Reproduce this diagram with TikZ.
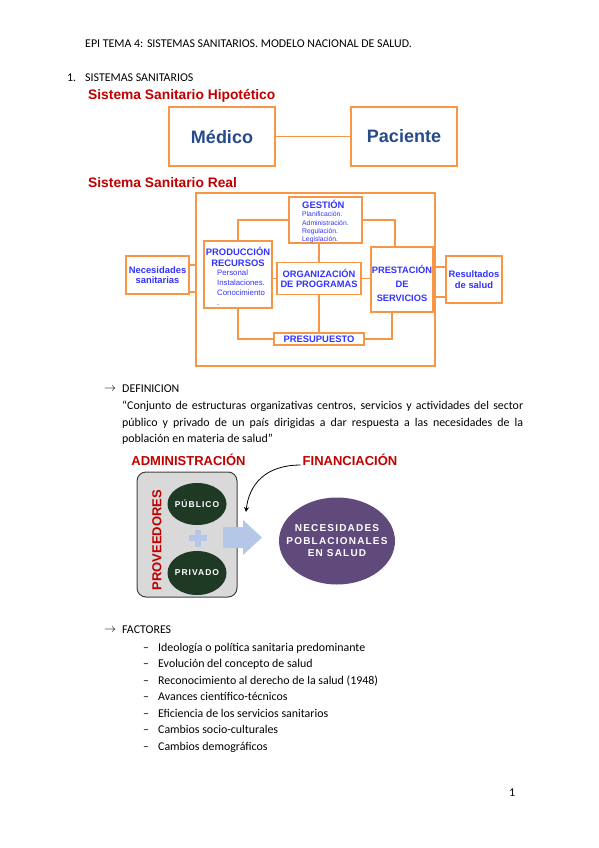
\documentclass[tikz,border=0pt]{standalone}
\usepackage{fontspec}
\setmainfont{Carlito}
\newfontfamily\diagfont{Liberation Sans}
\newfontfamily\spacedfont{Liberation Sans}[LetterSpace=12]
\usetikzlibrary{arrows.meta,shapes.geometric}

\definecolor{boxorange}{RGB}{247,150,70}
\definecolor{titlered}{RGB}{192,0,0}
\definecolor{medblue}{RGB}{38,74,140}
\definecolor{diagblue}{RGB}{51,51,255}
\definecolor{provgreen}{RGB}{30,58,36}
\definecolor{necpurple}{RGB}{96,74,123}
\definecolor{plusblue}{RGB}{180,199,231}
\definecolor{boxgray}{RGB}{217,217,217}

\newcommand{\dashitem}[1]{\makebox[15pt][l]{–}#1}

\begin{document}
\begin{tikzpicture}[x=1pt,y=-1pt,
    body/.style={anchor=west, inner sep=0pt, font=\fontsize{11.9}{14}\selectfont},
    redtitle/.style={anchor=west, inner sep=0pt, text=titlered, font=\diagfont\bfseries\fontsize{13.8}{15}\selectfont},
    hbox/.style={draw=boxorange, line width=1.5pt, minimum width=106pt, minimum height=59pt, text=medblue, font=\diagfont\bfseries\fontsize{18}{20}\selectfont},
    rbox/.style={draw=boxorange, line width=1.4pt, inner sep=0pt, text=diagblue, align=center, font=\diagfont\bfseries\fontsize{9.4}{10.5}\selectfont},
    rtext/.style={inner sep=0pt, text=diagblue, align=center, font=\diagfont\bfseries\fontsize{9.4}{11}\selectfont},
    rsmall/.style={inner sep=0pt, text=diagblue, align=left, anchor=north west},
    rlink/.style={draw=boxorange, line width=1.4pt},
    ovalgreen/.style={ellipse, fill=provgreen, inner xsep=-4pt, inner ysep=0pt, minimum width=59pt, text=white, font=\spacedfont\bfseries\fontsize{8.5}{10}\selectfont},
    bigred/.style={text=titlered, inner sep=0pt, font=\diagfont\bfseries\fontsize{13}{15}\selectfont}]
  \useasboundingbox (0,0) rectangle (599,848);

  % Page text
  \node[body] (head) at (85,44) {EPI TEMA 4: SISTEMAS SANITARIOS. MODELO NACIONAL DE SALUD.};
  \node[body] (secnum) at (67,78) {1.};
  \node[body] (sec) at (85,78) {SISTEMAS SANITARIOS};

  % Hypothetical system
  \node[redtitle] (hiptit) at (88,96) {Sistema Sanitario Hipotético};
  \node[hbox] (med) at (222,136.5) {Médico};
  \node[hbox] (pac) at (404,136.5) {Paciente};
  \draw[rlink] (med) -- (pac);

  % Real system: define node positions
  \node[redtitle] (realtit) at (88,183) {Sistema Sanitario Real};
  \node[rbox, minimum width=239pt, minimum height=173pt] (outer) at (315.5,279.5) {};
  \node[rbox, fill=white, minimum width=73pt, minimum height=46pt] (gest) at (325.5,220) {};
  \node[rtext, anchor=north west] (gesttxt) at (302,199.5) {GESTIÓN};
  \node[rsmall, font=\diagfont\fontsize{6.8}{8.3}\selectfont] (gestlist) at (302,211.5)
    {Planificación.\\Administración.\\Regulación.\\Legislación.};
  \node[rbox, fill=white, minimum width=68pt, minimum height=67pt] (prod) at (238,274.5) {};
  \node[rtext] (prodtxt) at (238,256.5) {PRODUCCIÓN\\RECURSOS};
  \node[rsmall, font=\diagfont\fontsize{7.8}{10}\selectfont] (prodlist) at (217,269.5)
    {Personal\\Instalaciones.\\Conocimiento\\.};
  \node[rbox, minimum width=63pt, minimum height=38pt] (nec) at (157.5,275) {Necesidades\\sanitarias};
  \node[rbox, fill=white, minimum width=84pt, minimum height=32pt, font=\diagfont\bfseries\fontsize{9.3}{9.5}\selectfont]
    (org) at (319,278.5) {ORGANIZACIÓN\\DE PROGRAMAS};
  \node[rbox, fill=white, minimum width=62pt, minimum height=65pt] (prest) at (402,279.5) {};
  \node[rtext, font=\diagfont\bfseries\fontsize{9.3}{14}\selectfont] (presttxt) at (402,283) {PRESTACIÓN\\DE\\SERVICIOS};
  \node[rbox, minimum width=56pt, minimum height=47pt] (res) at (474,279.5) {Resultados\\de salud};
  \node[rbox, fill=white, minimum width=90pt, minimum height=12pt] (presu) at (319,339) {PRESUPUESTO};

  % Draw links
  \draw[rlink] (gest.west) -| (prod.north);
  \draw[rlink] (gest.east) -| ([xshift=-7pt]prest.north);
  \draw[rlink] (org.north) -- (org.north |- gest.south);
  \draw[rlink] (org.west) -- (org.west -| prod.east);
  \draw[rlink] (org.east) -- (org.east -| prest.west);
  \draw[rlink] (org.south) -- (presu.north);
  \draw[rlink] (prod.south) |- (presu.west);
  \draw[rlink] (presu.east) -| ([xshift=-10pt]prest.south);
  \draw[rlink] ([yshift=10pt]nec.east) -- ([yshift=10pt]nec.east -| outer.west);
  \draw[rlink] ([yshift=-17pt]nec.east) -- ([yshift=-17pt]nec.east -| outer.west);
  \draw[rlink] ([yshift=12.5pt]res.west) -- ([yshift=12.5pt]res.west -| outer.east);
  \draw[rlink] ([yshift=-17.5pt]res.west) -- ([yshift=-17.5pt]res.west -| outer.east);

  % Definition
  \node[body] (defarr) at (104,389) {$\rightarrow$};
  \node[body] (def) at (122,389) {DEFINICION};
  \node[body] (defa) at (122,406) {\makebox[401pt][s]{“Conjunto de estructuras organizativas centros, servicios y actividades del sector}};
  \node[body] (defb) at (122,423) {\makebox[401pt][s]{público y privado de un país dirigidas a dar respuesta a las necesidades de la}};
  \node[body] (defc) at (122,439) {población en materia de salud”};

  % Providers and needs
  \node[bigred] (admin) at (188.5,460) {ADMINISTRACIÓN};
  \node[bigred] (fin) at (350,460) {FINANCIACIÓN};
  \node[draw={rgb,255:red,64;green,64;blue,64}, line width=1pt, fill=boxgray, rounded corners=9pt,
    minimum width=100pt, minimum height=125pt] (prov) at (187,534.5) {};
  \node[bigred, rotate=90] (provtxt) at (157,540) {PROVEEDORES};
  \node[ovalgreen, minimum height=42pt] (pub) at (197,504) {PÚBLICO};
  \node[ovalgreen, minimum height=44pt] (priv) at (197,573) {PRIVADO};
  \fill[plusblue] (189,535) rectangle (207,541);
  \fill[plusblue] (195,529.5) rectangle (201,546.5);
  \fill[plusblue] (223,527) -- (243,527) -- (243,520) -- (262,537.5) -- (243,555) -- (243,548) -- (223,548) -- cycle;
  \node[ellipse, fill=necpurple, inner xsep=-16pt, inner ysep=0pt, minimum width=116pt, minimum height=87pt, text=white, align=center,
    font=\spacedfont\bfseries\fontsize{10}{12.5}\selectfont] (necpob) at (337,541)
    {NECESIDADES\\POBLACIONALES\\EN SALUD};

  % Financing arrow
  \coordinate (finend) at (246,512);
  \draw[-{Stealth[length=5pt,width=5pt]}, line width=0.8pt] ([xshift=-2pt,yshift=1pt]fin.south west) .. controls (266,465) and (249,484) .. (finend);

  % Factors
  \node[body] (facarr) at (104,630) {$\rightarrow$};
  \node[body] (fac) at (122,630) {FACTORES};
  \node[body, anchor=base west] (faca) at (143,651) {\dashitem{Ideología o política sanitaria predominante}};
  \node[body, anchor=base west] (facb) at (143,667.5) {\dashitem{Evolución del concepto de salud}};
  \node[body, anchor=base west] (facc) at (143,684) {\dashitem{Reconocimiento al derecho de la salud (1948)}};
  \node[body, anchor=base west] (facd) at (143,700.5) {\dashitem{Avances científico-técnicos}};
  \node[body, anchor=base west] (face) at (143,717) {\dashitem{Eficiencia de los servicios sanitarios}};
  \node[body, anchor=base west] (facf) at (143,733.5) {\dashitem{Cambios socio-culturales}};
  \node[body, anchor=base west] (facg) at (143,750) {\dashitem{Cambios demográficos}};

  \node[body] (pagenum) at (509,793) {1};
\end{tikzpicture}
\end{document}
